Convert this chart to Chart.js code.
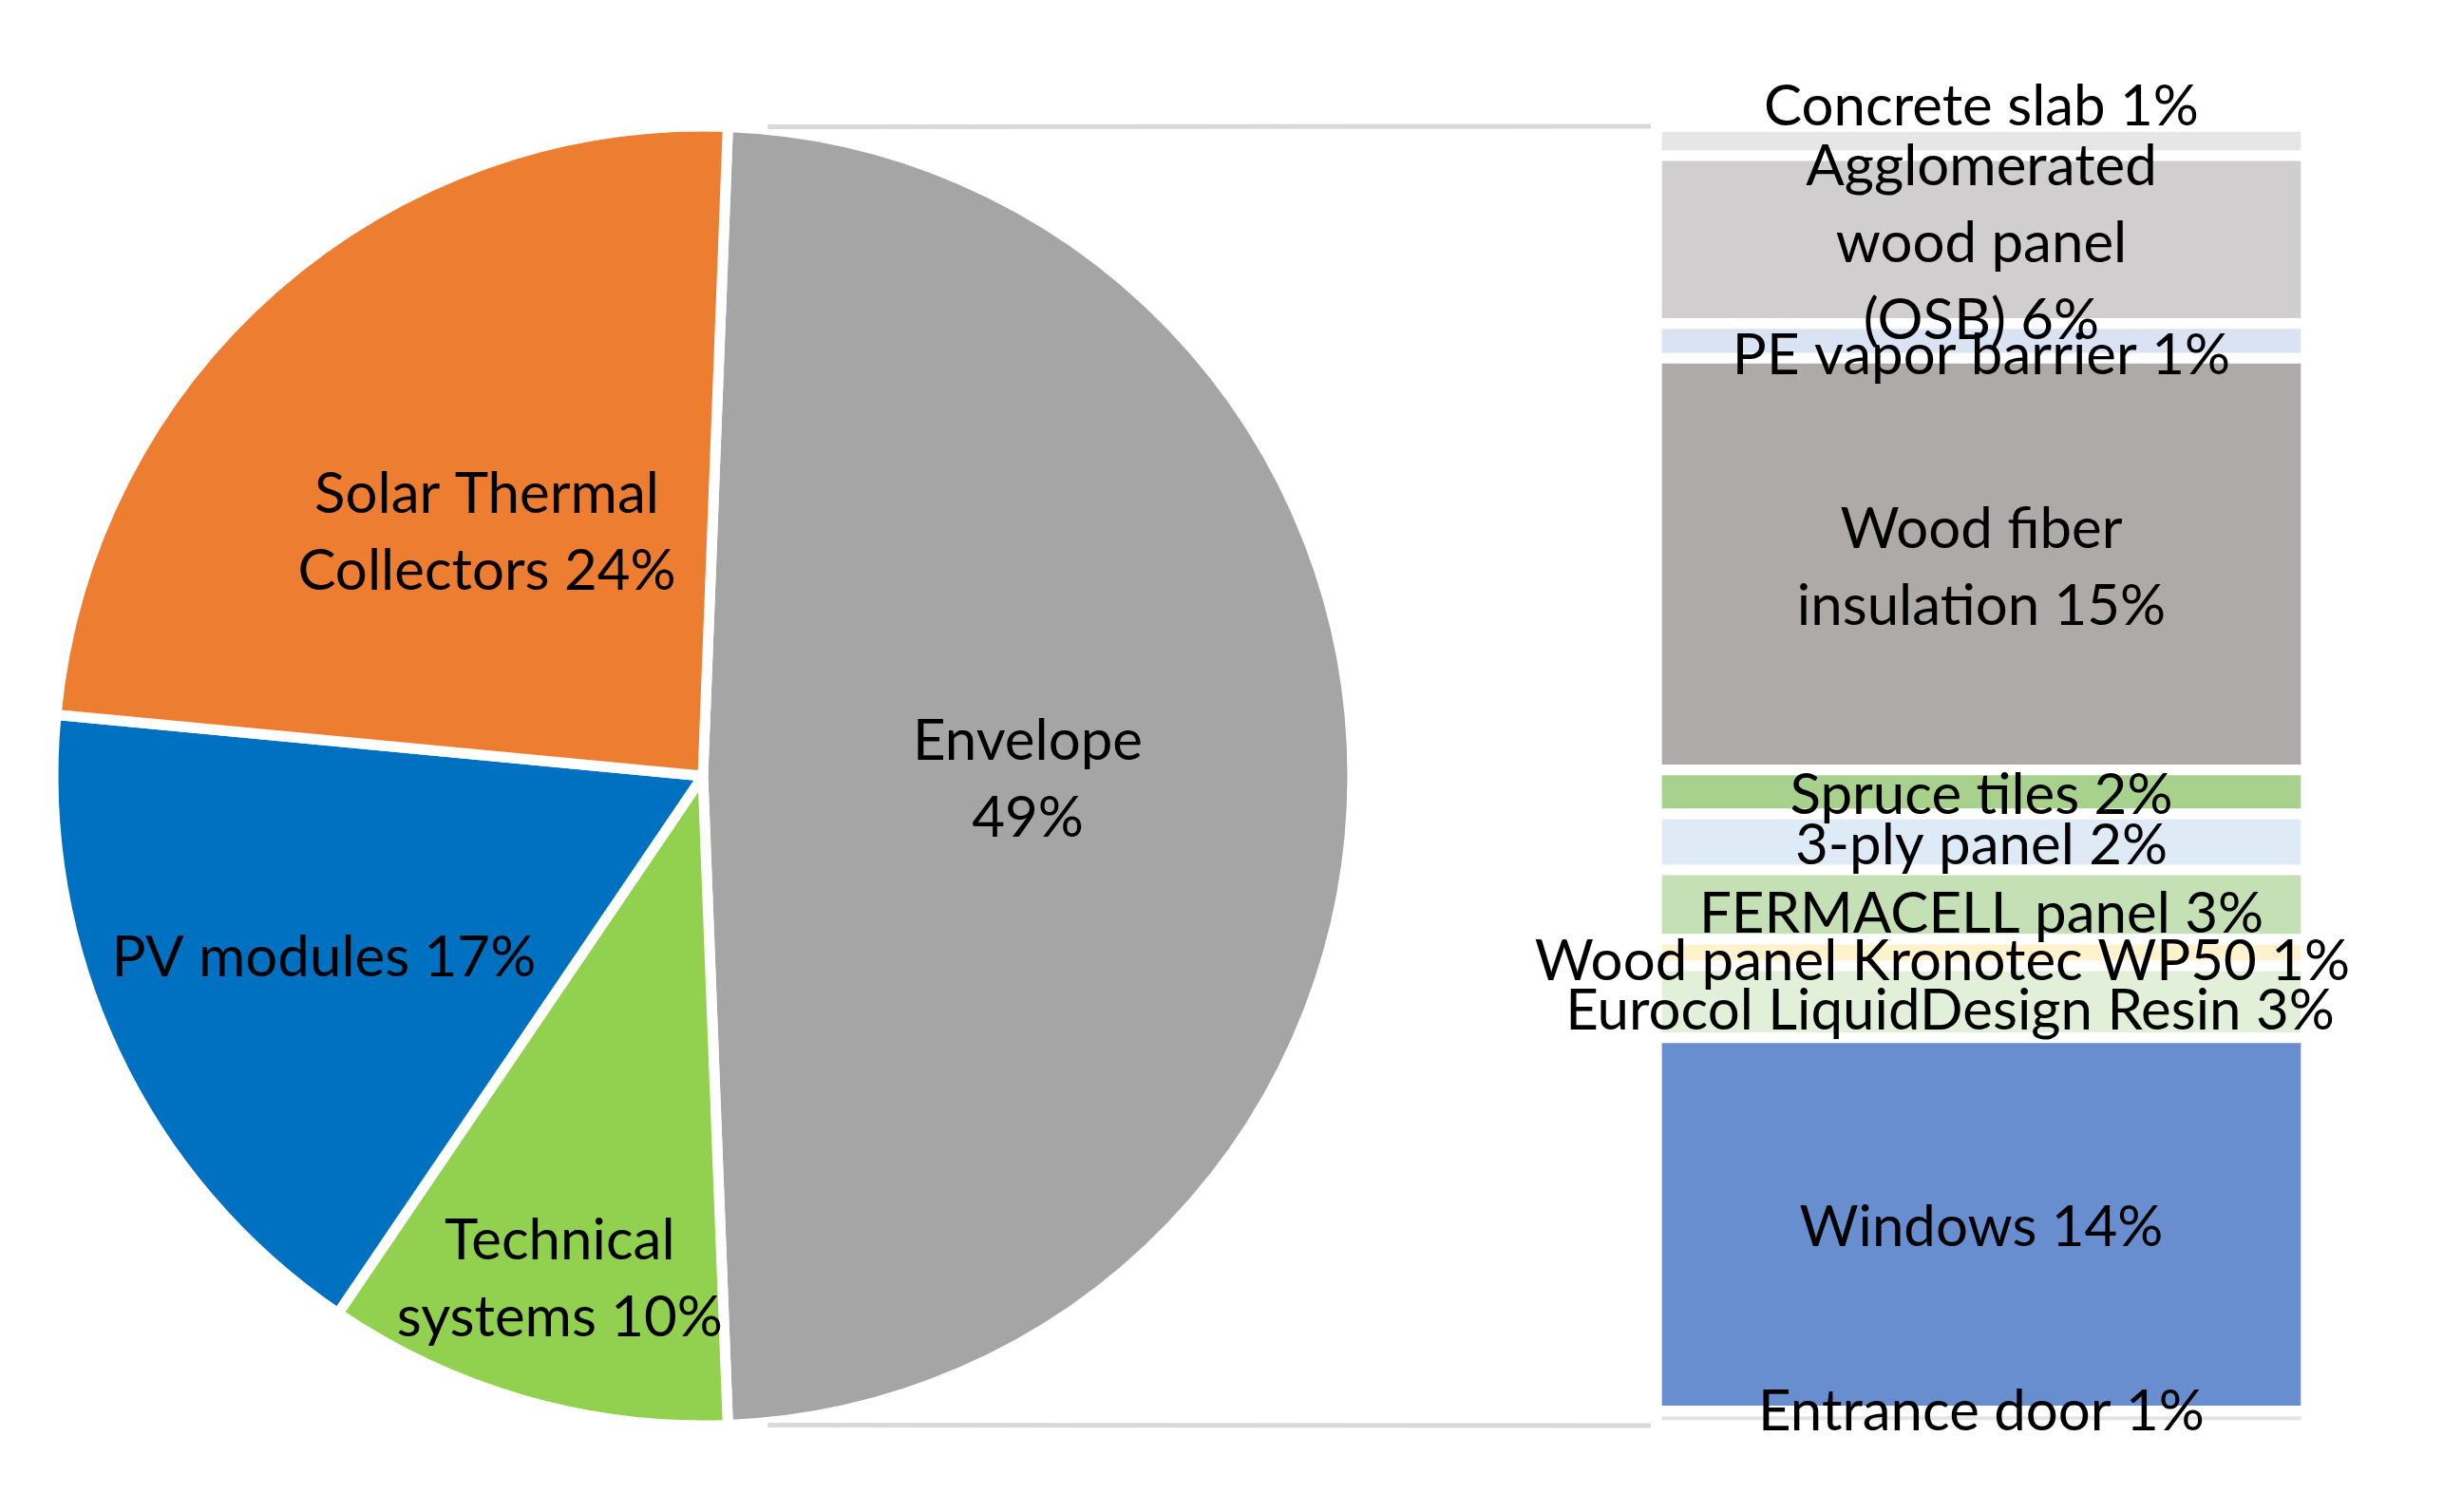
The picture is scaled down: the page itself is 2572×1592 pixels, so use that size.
<!DOCTYPE html>
<html>
<head>
<meta charset="utf-8">
<script src="https://cdn.jsdelivr.net/npm/chart.js@4.4.0/dist/chart.umd.min.js"></script>
<style>
  html, body { margin:0; padding:0; background:#fff; }
  #wrap { position:relative; width:2572px; height:1592px; overflow:hidden; }
  canvas { position:absolute; left:0; top:0; }
</style>
</head>
<body>
<div id="wrap">
  <canvas id="bar" width="2572" height="1592"></canvas>
  <canvas id="pie" width="2572" height="1592"></canvas>
</div>
<script>
// Pie: first slice is the envelope (sum of its breakdown below)
const pieNames = ['Envelope\n', 'Technical\nsystems', 'PV modules', 'Solar Thermal\nCollectors'];
const pieColors = ['#a5a5a5', '#92d050', '#0070c0', '#ed7d31'];
const otherValues = [10.1, 17.0, 24.1]; // technical, PV, solar

// Envelope breakdown, top to bottom of the bar
const partNames = [
  'Concrete slab',
  'Agglomerated\nwood panel\n(OSB)',
  'PE vapor barrier',
  'Wood fiber\ninsulation',
  'Spruce tiles',
  '3-ply panel',
  'FERMACELL panel',
  'Wood panel Kronotec WP50',
  'Eurocol LiquidDesign Resin',
  'Windows',
  'Entrance door'
];
const partValues = [1.1, 6.3, 1.3, 15.45, 1.65, 2.1, 2.6, 1.0, 2.7, 14.0, 0.55];
const partColors = ['#e7e6e6', '#d0cece', '#dae3f3', '#aeaaaa', '#a9d18e', '#deebf7',
                    '#c5e0b4', '#fff2cc', '#e2f0d9', '#698ed0', '#e4e4e4'];

const envelope = partValues.reduce((a, b) => a + b, 0);
const pieValues = [envelope, ...otherValues];
const total = pieValues.reduce((a, b) => a + b, 0);

const FONT = '60px Lato';
const LINE_H = 81;

const pct = (v) => Math.round(v / total * 100);
function labelLines(name, v){
  return (name + ' ' + pct(v) + '%').split('\n').map(s => s.trim());
}
function drawLines(ctx, lines, x, y, lh){
  const y0 = y + 4 - (lines.length - 1) * lh / 2;
  lines.forEach((t, i) => ctx.fillText(t, x, y0 + i * lh));
}

// ---- bar of the envelope ----
const barLabels = {
  id: 'barLabels',
  afterDatasetsDraw(chart, args, opts){
    const ctx = chart.ctx;
    ctx.save();
    ctx.font = FONT; ctx.fillStyle = '#000';
    ctx.textAlign = 'center'; ctx.textBaseline = 'middle';
    chart.data.datasets.forEach((ds, i) => {
      const el = chart.getDatasetMeta(i).data[0];
      const cy = (el.y + el.base) / 2 + (opts.shiftY[i] || 0);
      drawLines(ctx, labelLines(partNames[i], partValues[i]), el.x + (opts.shiftX[i] || 0), cy, LINE_H);
    });
    ctx.restore();
  }
};

const barChart = new Chart(document.getElementById('bar'), {
  type: 'bar',
  data: {
    labels: ['Envelope'],
    datasets: partNames.map((n, i) => ({
      label: n,
      data: [partValues[i]],
      backgroundColor: partColors[i],
      borderColor: '#ffffff',
      borderWidth: 6,
      borderSkipped: false,
      barPercentage: 1,
      categoryPercentage: 1,
      stack: 'env'
    }))
  },
  options: {
    responsive: false,
    animation: false,
    layout: { padding: { left: 1744, right: 144, top: 133, bottom: 91 } },
    scales: {
      x: { stacked: true, display: false },
      y: { stacked: true, display: false, reverse: true, min: 0, max: envelope }
    },
    plugins: {
      legend: { display: false },
      tooltip: { enabled: false },
      barLabels: {
        shiftY: [-40, 0, 12, 0, 0, 0, 6, 6, 6, 0, -11],
        shiftX: [0, 0, 0, 0, 0, 0, 0, -41, -33, 0, 0]
      }
    }
  },
  plugins: [barLabels]
});

// ---- pie ----
const pieExtras = {
  id: 'pieExtras',
  afterDatasetsDraw(chart, args, opts){
    const ctx = chart.ctx;
    const arcs = chart.getDatasetMeta(0).data;
    const env = arcs[0];
    const bar = barChart.getDatasetMeta(0).data[0];
    const bw = 6;
    const left = bar.x - bar.width / 2 - bw;
    const top = barChart.scales.y.getPixelForValue(0);
    const bottom = barChart.scales.y.getPixelForValue(envelope);
    const r = env.outerRadius;

    // series lines, starting a little past the slice corner
    const seg = (ang, ty) => {
      const sx = env.x + Math.cos(ang) * r, sy = env.y + Math.sin(ang) * r;
      const len = Math.hypot(left - sx, ty - sy);
      const t = opts.lineGap / len;
      ctx.moveTo(sx + (left - sx) * t, sy + (ty - sy) * t);
      ctx.lineTo(left, ty);
    };
    ctx.save();
    ctx.strokeStyle = '#d9d9d9';
    ctx.lineWidth = 5;
    ctx.beginPath();
    seg(env.startAngle, top);
    seg(env.endAngle, bottom);
    ctx.stroke();

    ctx.font = FONT; ctx.fillStyle = '#000';
    ctx.textAlign = 'center'; ctx.textBaseline = 'middle';
    arcs.forEach((a, i) => {
      const mid = (a.startAngle + a.endAngle) / 2;
      const d = a.outerRadius * opts.radial[i];
      drawLines(ctx, labelLines(pieNames[i], pieValues[i]),
        a.x + Math.cos(mid) * d, a.y + Math.sin(mid) * d, LINE_H);
    });
    ctx.restore();
  }
};

const pieChart = new Chart(document.getElementById('pie'), {
  type: 'pie',
  data: {
    labels: pieNames,
    datasets: [{
      data: pieValues,
      backgroundColor: pieColors,
      borderColor: '#ffffff',
      borderWidth: 11
    }]
  },
  options: {
    responsive: false,
    animation: false,
    rotation: 90 - envelope / total * 180,
    radius: 684,
    layout: { padding: { left: 40, right: 1132, top: 117, bottom: 75 } },
    plugins: {
      legend: { display: false },
      tooltip: { enabled: false },
      pieExtras: { radial: [0.50, 0.80, 0.645, 0.505], lineGap: 42 }
    }
  },
  plugins: [pieExtras]
});
</script>
</body>
</html>
